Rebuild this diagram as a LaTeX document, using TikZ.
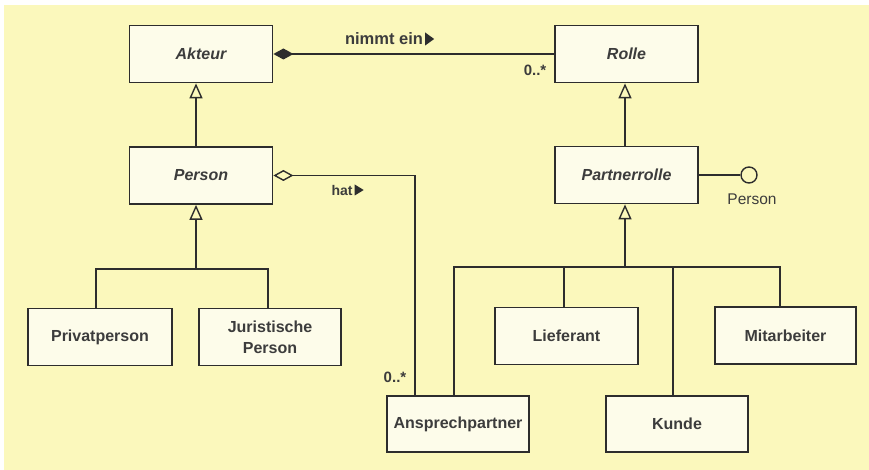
\documentclass[tikz,border=0pt]{standalone}
\usepackage{fontspec}
\setmainfont{Liberation Sans}
\usetikzlibrary{arrows.meta,calc}

\definecolor{bgyellow}{RGB}{251,248,188}
\definecolor{boxfill}{RGB}{253,252,234}
\definecolor{linegray}{RGB}{45,45,45}
\definecolor{textgray}{RGB}{60,60,60}

\begin{document}
\begin{tikzpicture}[x=1pt,y=-1pt,
  cls/.style={draw=linegray, line width=1.8pt, fill=boxfill,
    minimum width=143pt, minimum height=57pt, inner sep=2pt,
    font=\bfseries\fontsize{16}{21}\selectfont, text=textgray, align=center},
  abstract/.style={cls, font=\bfseries\itshape\fontsize{16}{21}\selectfont},
  conn/.style={draw=linegray, line width=1.4pt},
  gen/.style={conn, -{Triangle[open, length=15pt, width=13pt]}},
  compo/.style={conn, {Diamond[length=20pt, width=11pt]}-},
  aggr/.style={conn, {Diamond[open, length=20pt, width=11pt]}-},
  lbl/.style={inner sep=0pt, text=textgray, font=\bfseries\fontsize{15}{18}\selectfont},
  dirmark/.style={fill=linegray}
]
% canvas
\useasboundingbox (0,0) rectangle (869,470);
\fill[white] (0,0) rectangle (869,470);
\fill[bgyellow] (4,5) rectangle (869,470);

% classes
\node[abstract] (akteur)  at (201,54)    {Akteur};
\node[abstract] (rolle)   at (626.5,54)  {Rolle};
\node[abstract] (person)  at (201,175.5) {Person};
\node[abstract] (partner) at (626.5,175) {Partnerrolle};
\node[cls, minimum width=144pt] (privat) at (100,337) {Privatperson};
\node[cls, minimum width=142pt] (jur)    at (270,337) {Juristische\\Person};
\node[cls, minimum width=142pt, minimum height=56pt] (ansp)   at (458,424)   {Ansprechpartner};
\node[cls] (liefer) at (566.5,336)  {Lieferant};
\node[cls, minimum width=141pt] (mitarb) at (785.5,335.5) {Mitarbeiter};
\node[cls, minimum width=142pt, minimum height=56pt] (kunde)  at (677,424) {Kunde};

% provided interface
\node[circle, draw=linegray, line width=1.4pt, minimum size=16pt, inner sep=0pt] (iface) at (749,175) {};
\node[lbl, font=\fontsize{15.5}{18}\selectfont] (ifacelbl) at (752,199) {Person};
\draw[conn] (partner.east) -- (iface.west);

% composition Akteur -> Rolle
\draw[compo] (akteur.east) -- (rolle.west);
\node[lbl, font=\bfseries\fontsize{16.5}{18}\selectfont] (nimmt) at (384,39) {nimmt ein};
\fill[dirmark] ($(nimmt.east)+(2,-6.5)$) -- ++(0,13) -- ++(9,-6.5) -- cycle;
\node[lbl] (multR) at (535,70) {0..*};

% aggregation Person -> Ansprechpartner
\draw[aggr] (person.east) -| ([xshift=-43pt]ansp.north);
\node[lbl, font=\bfseries\fontsize{14}{18}\selectfont] (hat) at (342,190) {hat};
\fill[dirmark] ($(hat.east)+(2,-5.5)$) -- ++(0,11) -- ++(9,-5.5) -- cycle;
\node[lbl] (multA) at (395,377) {0..*};

% generalizations
\draw[gen] ([xshift=-5pt]person.north) -- ([xshift=-5pt]akteur.south);
\draw[gen] ([xshift=-1.5pt]partner.north) -- ([xshift=-1.5pt]rolle.south);

\coordinate (pj) at (196,269);
\draw[conn] ([xshift=-4pt]privat.north) |- (pj) -| ([xshift=-2pt]jur.north);
\draw[gen] (pj) -- ([xshift=-5pt]person.south);

\coordinate (rj) at (625,267);
\draw[conn] ([xshift=-4pt]ansp.north) |- (rj) -| ([xshift=-5.5pt]mitarb.north);
\draw[conn] ([xshift=-2.5pt]liefer.north) |- (rj);
\draw[conn] ([xshift=-4pt]kunde.north) |- (rj);
\draw[gen] (rj) -- ([xshift=-1.5pt]partner.south);
\end{tikzpicture}
\end{document}
